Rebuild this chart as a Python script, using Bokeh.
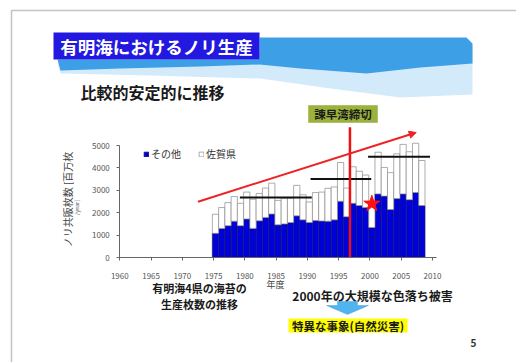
from math import pi
from bokeh.plotting import figure
from bokeh.models import (Range1d, FixedTicker, Label, BoxAnnotation, PolyAnnotation,
                          Arrow, NormalHead, Legend, LegendItem, ColumnDataSource, LinearAxis)
from bokeh.embed import file_html
from bokeh.resources import INLINE

# ---------------- data ----------------
years = list(range(1975, 2009))
other = [1080, 1300, 1420, 1620, 1420, 1720, 1300, 1640, 1790, 1940,
         1460, 1500, 1560, 1860, 1680, 1560, 1650, 1630, 1620, 1680,
         2510, 1820, 2420, 2320, 2230, 1340, 2840, 2740, 2140, 2630,
         2840, 2580, 2900, 2320]
saga = [850, 930, 1030, 1100, 1000, 1200, 1300, 1220, 1310, 1380,
        1090, 1150, 1090, 1360, 1120, 920, 1250, 1290, 1470, 1470,
        1730, 1280, 1630, 1530, 1450, 1160, 1860, 1280, 1650, 2000,
        2210, 2140, 2200, 2010]
series_names = ["その他", "佐賀県"]

avg_start = [1979.2, 1990.5, 1999.7]
avg_end = [1990.7, 2000.2, 2009.6]
avg_value = [2680, 3500, 4495]

trend_year = [1972.5, 2007.4]
trend_value = [2490, 5580]

closure_year = 1997          # 諫早湾締切
closure_top = 5810
damage_year = 2000           # 2000年の大規模な色落ち被害
damage_value = 2400

x_ticks = [1960, 1965, 1970, 1975, 1980, 1985, 1990, 1995, 2000, 2005, 2010]
y_ticks = [0, 1000, 2000, 3000, 4000, 5000]

# ---------------- layout constants ----------------
W, H = 516, 362
X0_PX, Y0_PX = 119.3, 257.0      # canvas position of (1960, 0)
PX_YEAR = 6.254
PX_UNIT = 112 / 5000
AXIS_X_END = 2010.7
BAR_SHIFT = 0.3
FONT = "Noto Sans CJK JP"

x_start = 1960 - X0_PX / PX_YEAR
x_end = 1960 + (W - X0_PX) / PX_YEAR
y_start = -(H - Y0_PX) / PX_UNIT
y_end = Y0_PX / PX_UNIT

p = figure(width=W, height=H, x_range=Range1d(x_start, x_end), y_range=Range1d(y_start, y_end),
           output_backend="svg", toolbar_location=None, title=None,
           x_axis_location=None, y_axis_location=None,
           min_border_left=0, min_border_right=0, min_border_top=0, min_border_bottom=0)
p.background_fill_color = "white"
p.border_fill_color = "white"
p.outline_line_color = None
p.grid.visible = False


def box(l, r, t, b, **kw):
    p.add_layout(BoxAnnotation(left=l, right=r, top=t, bottom=b,
                               left_units="canvas", right_units="canvas",
                               top_units="canvas", bottom_units="canvas", **kw))


def poly(xs, ys, **kw):
    p.add_layout(PolyAnnotation(xs=xs, ys=ys, xs_units="canvas", ys_units="canvas", **kw))


def label(x, y, text, size, color="#1a1a1a", bold=True, align="left", angle=0):
    p.add_layout(Label(x=x, y=y, x_units="canvas", y_units="canvas", text=text,
                       text_font=FONT, text_font_size=f"{size}px",
                       text_font_style="bold" if bold else "normal",
                       text_color=color, text_align=align, text_baseline="middle",
                       angle=angle))


# ---------------- slide decorations ----------------
box(11, 560, 10, 420, fill_color=None, line_color="#3a3a3a", line_width=1.5)

poly([57, 120, 200, 260, 330, 400, 472, 472, 400, 330, 260, 150, 60],
     [62, 60, 58, 50, 48, 46, 46, 94, 97, 88, 78, 75, 73],
     fill_color="#d3eafa", fill_alpha=1.0, line_color=None)
poly([57, 259, 259, 466, 472, 472, 420, 366, 300, 259, 200, 120, 60],
     [59, 59, 37, 37, 43, 63, 67, 73, 68, 64, 66, 68, 70],
     fill_color="#3d9fe6", fill_alpha=1.0, line_color=None)
box(53, 259, 32, 59, fill_color="#2318e0", fill_alpha=1.0, line_color=None)

label(156, 46, "有明海におけるノリ生産", 17.5, color="white", align="center")
label(80, 91, "比較的安定的に推移", 16)

# 諫早湾締切 tag
box(308, 377, 105, 122, fill_color="#9cb33a", fill_alpha=1.0, line_color="#6f8226", line_width=1)
label(342.5, 113.5, "諫早湾締切", 11.5, align="center")

# ---------------- chart ----------------
src = ColumnDataSource(dict(x=[y + BAR_SHIFT for y in years],
                            **{series_names[0]: other, series_names[1]: saga}))
rs = p.vbar_stack(series_names, x="x", width=1.0, source=src,
                  fill_color=["#0000d8", "white"], line_color=["#1a1a66", "#8a8a8a"],
                  line_width=0.7)

p.segment(x0=avg_start, y0=avg_value, x1=avg_end, y1=avg_value,
          line_color="#111111", line_width=2)

p.segment(x0=[closure_year - 1 + BAR_SHIFT + 0.5], y0=[0],
          x1=[closure_year - 1 + BAR_SHIFT + 0.5], y1=[closure_top],
          line_color="#ee1111", line_width=2.5)

p.add_layout(Arrow(end=NormalHead(size=7, fill_color="#ee2222", line_color="#ee2222"),
                   x_start=trend_year[0], y_start=trend_value[0],
                   x_end=trend_year[1], y_end=trend_value[1],
                   line_color="#ee2222", line_width=2))

p.scatter(x=[damage_year + BAR_SHIFT], y=[damage_value], marker="star", size=17,
          fill_color="#ff1111", line_color="#ff1111")

# axes (placed at the data origin)
xaxis = LinearAxis(fixed_location=0, ticker=FixedTicker(ticks=x_ticks), bounds=(1960, AXIS_X_END))
yaxis = LinearAxis(fixed_location=1960, ticker=FixedTicker(ticks=y_ticks), bounds=(0, 5000))
p.add_layout(xaxis, "below")
p.add_layout(yaxis, "left")
for ax in (xaxis, yaxis):
    ax.axis_line_color = "#666666"
    ax.major_tick_line_color = "#666666"
    ax.minor_tick_line_color = None
    ax.major_tick_in = 0
    ax.major_tick_out = 3
    ax.major_label_text_font = FONT
    ax.major_label_text_font_size = "8px"
    ax.major_label_text_color = "#555555"
xaxis.major_label_standoff = 12
yaxis.major_label_standoff = 7

# legend
legend = Legend(items=[LegendItem(label=series_names[0], renderers=[rs[0]]),
                       LegendItem(label=series_names[1], renderers=[rs[1]])],
                orientation="horizontal", location=(143, H - 161),
                label_text_font=FONT, label_text_font_size="10px", label_text_color="#333333",
                glyph_width=6, glyph_height=6, label_height=10, label_standoff=2,
                spacing=17, padding=0, margin=0,
                background_fill_alpha=0, border_line_alpha=0)
p.add_layout(legend)

# axis titles and notes
label(67, 199, "ノリ共販枚数 [百万枚", 10, color="#444444", bold=False, align="center", angle=pi / 2)
label(76.5, 207, "/year]", 5.5, color="#555555", bold=False, align="center", angle=pi / 2)
label(275, 284, "年度", 9, color="#444444", bold=False, align="center")
label(199, 287, "有明海4県の海苔の", 11, align="center")
label(199, 303, "生産枚数の推移", 11, align="center")
label(372, 295, "2000年の大規模な色落ち被害", 12, align="center")

poly([337, 357, 357, 368, 347, 326, 337],
     [301, 301, 305, 305, 314, 305, 305],
     fill_color="#4fb4ef", fill_alpha=1.0, line_color="#2a7fc0", line_width=1)

box(288, 407, 318, 332, fill_color="#ffff00", fill_alpha=1.0, line_color=None)
label(347.5, 325, "特異な事象(自然災害)", 11.5, align="center")
label(473, 342, "5", 10, color="#333333", align="center")

open("out.html", "w").write(file_html(p, INLINE))
